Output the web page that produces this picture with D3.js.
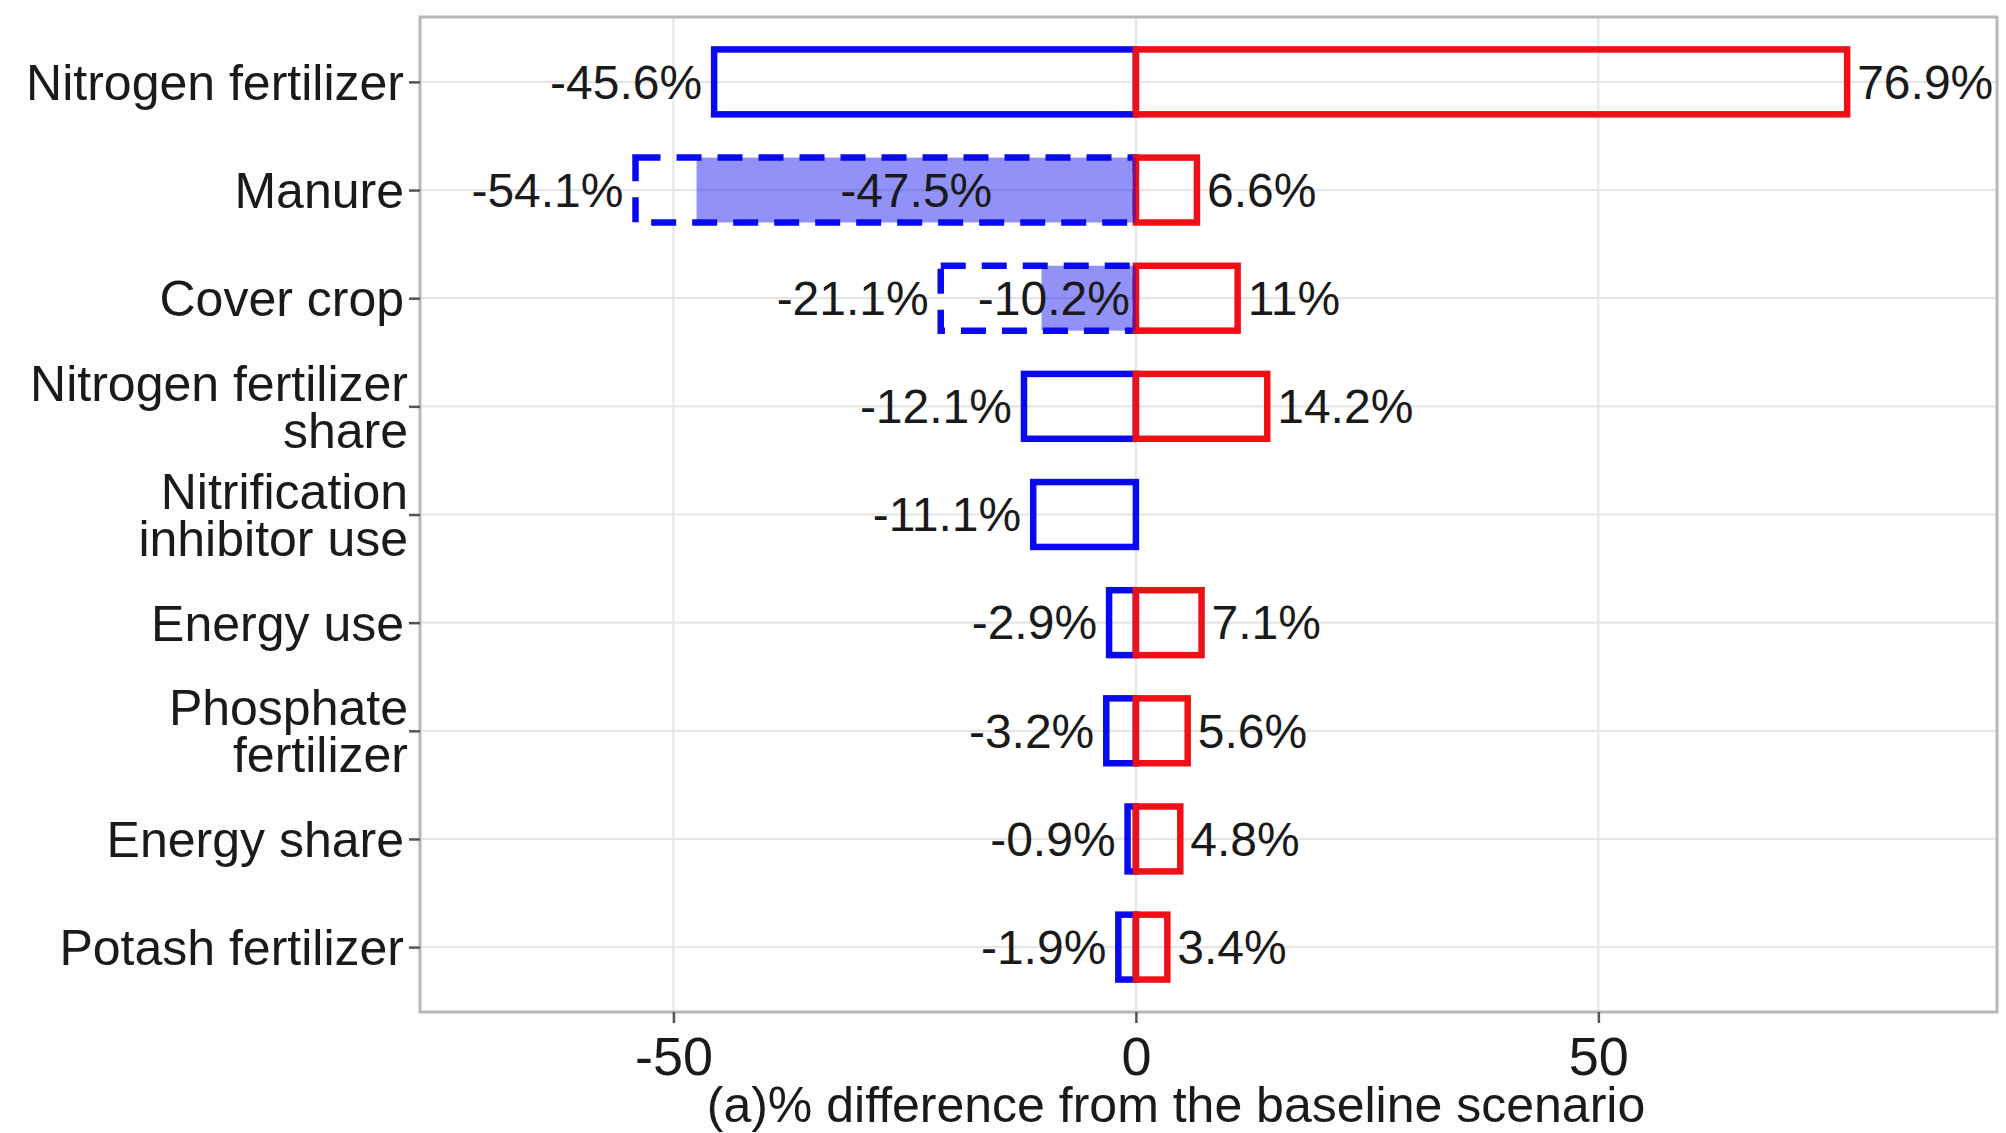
<!DOCTYPE html>
<html>
<head>
<meta charset="utf-8">
<script src="https://cdn.jsdelivr.net/npm/d3@7"></script>
<style>
  html, body { margin: 0; padding: 0; background: #fdfdfd; }
  svg { display: block; font-family: "Liberation Sans", Arial, Helvetica, sans-serif; }
</style>
</head>
<body>
<svg id="chart" width="2006" height="1133"></svg>
<script>
// Sensitivity of emissions to each input: low / high scenario, % change from baseline
const categories = [
  "Nitrogen fertilizer",
  "Manure",
  "Cover crop",
  "Nitrogen fertilizer\nshare",
  "Nitrification\ninhibitor use",
  "Energy use",
  "Phosphate\nfertilizer",
  "Energy share",
  "Potash fertilizer"
];
const lowValues = [-45.6, -54.1, -21.1, -12.1, -11.1, -2.9, -3.2, -0.9, -1.9];
const highValues = [76.9, 6.6, 11, 14.2, null, 7.1, 5.6, 4.8, 3.4];
// Part of the low-scenario change that is reached with partial adoption
const partialValues = [null, -47.5, -10.2, null, null, null, null, null, null];
const xTicks = [-50, 0, 50];
const xTitle = "(a)% difference from the baseline scenario";

const BLUE = "#0a0aee";
const RED = "#ee1016";
const TEXT = "#1a1a1a";
const STROKE = 6.5;

const svg = d3.select("#chart");
const panel = { left: 420, right: 1997, top: 17, bottom: 1012 };

const x = d3.scaleLinear().domain([-77.4, 93.1]).range([panel.left, panel.right]);
const y = d3.scalePoint().domain(categories).range([panel.top, panel.bottom]).padding(0.6);
const barH = y.step() * 0.6;

const rows = categories.map((c, i) => ({
  cat: c, low: lowValues[i], high: highValues[i], part: partialValues[i]
}));

const fmt = v => `${v}%`;

// panel background
svg.append("rect")
  .attr("x", panel.left).attr("y", panel.top)
  .attr("width", panel.right - panel.left).attr("height", panel.bottom - panel.top)
  .attr("fill", "#ffffff");

// grid
const grid = svg.append("g").attr("stroke", "#e6e6e6").attr("stroke-width", 2.2);
grid.selectAll("line.v").data(xTicks).join("line")
  .attr("x1", d => x(d)).attr("x2", d => x(d))
  .attr("y1", panel.top).attr("y2", panel.bottom);
grid.selectAll("line.h").data(categories).join("line")
  .attr("x1", panel.left).attr("x2", panel.right)
  .attr("y1", d => y(d)).attr("y2", d => y(d));

// low-scenario outlines (dashed where a partial-adoption value exists)
svg.append("g").selectAll("rect").data(rows).join("rect")
  .attr("x", d => x(d.low)).attr("width", d => x(0) - x(d.low))
  .attr("y", d => y(d.cat) - barH / 2).attr("height", barH)
  .attr("fill", "none").attr("stroke", BLUE).attr("stroke-width", STROKE)
  .attr("stroke-dasharray", d => d.part != null ? "25 16" : null);

// high-scenario outlines
svg.append("g").selectAll("rect").data(rows.filter(d => d.high != null)).join("rect")
  .attr("x", x(0)).attr("width", d => x(d.high) - x(0))
  .attr("y", d => y(d.cat) - barH / 2).attr("height", barH)
  .attr("fill", "none").attr("stroke", RED).attr("stroke-width", STROKE);

// partial-adoption fill
svg.append("g").selectAll("rect").data(rows.filter(d => d.part != null)).join("rect")
  .attr("x", d => x(d.part)).attr("width", d => x(0) - x(d.part))
  .attr("y", d => y(d.cat) - barH / 2).attr("height", barH)
  .attr("fill", BLUE).attr("fill-opacity", 0.45);

// panel border
svg.append("rect")
  .attr("x", panel.left).attr("y", panel.top)
  .attr("width", panel.right - panel.left).attr("height", panel.bottom - panel.top)
  .attr("fill", "none").attr("stroke", "#b8b8b8").attr("stroke-width", 3);

// value labels
const labels = svg.append("g").attr("font-size", 48).attr("fill", TEXT);
labels.selectAll("text.low").data(rows).join("text")
  .attr("x", d => x(d.low) - 12).attr("y", d => y(d.cat))
  .attr("dy", "0.35em").attr("text-anchor", "end")
  .text(d => fmt(d.low));
labels.selectAll("text.high").data(rows.filter(d => d.high != null)).join("text")
  .attr("x", d => x(d.high) + 10).attr("y", d => y(d.cat))
  .attr("dy", "0.35em").attr("text-anchor", "start")
  .text(d => fmt(d.high));
labels.selectAll("text.part").data(rows.filter(d => d.part != null)).join("text")
  .attr("y", d => y(d.cat)).attr("dy", "0.35em").attr("text-anchor", "middle")
  .text(d => fmt(d.part))
  .each(function (d) {
    const w = this.getComputedTextLength();
    const mid = (x(d.part) + x(0)) / 2;
    d3.select(this).attr("x", Math.min(mid, x(0) - 6 - w / 2));
  });

// y axis
const yAxis = svg.append("g")
  .attr("transform", `translate(${panel.left},0)`)
  .call(d3.axisLeft(y).tickSize(11).tickPadding(5).tickFormat(""));
yAxis.select(".domain").remove();
yAxis.selectAll(".tick line").attr("stroke", "#555").attr("stroke-width", 2.5);
yAxis.selectAll(".tick text").remove();
const lineGap = 47;
yAxis.selectAll(".tick").each(function (d) {
  const lines = d.split("\n");
  const t = d3.select(this).append("text")
    .attr("fill", TEXT).attr("font-size", 50).attr("text-anchor", "end");
  lines.forEach((ln, k) => {
    t.append("tspan")
      .attr("x", lines.length > 1 ? -12 : -16)
      .attr("y", (k - (lines.length - 1) / 2) * lineGap)
      .attr("dy", "0.35em")
      .text(ln);
  });
});

// x axis
const xAxis = svg.append("g")
  .attr("transform", `translate(0,${panel.bottom})`)
  .call(d3.axisBottom(x).tickValues(xTicks).tickSize(11).tickFormat(d => String(d)));
xAxis.select(".domain").remove();
xAxis.selectAll(".tick line").attr("stroke", "#555").attr("stroke-width", 2.5);
xAxis.selectAll(".tick text")
  .attr("fill", TEXT).attr("font-size", 54).attr("y", 63).attr("dy", null);

// axis title
svg.append("text")
  .attr("x", 1176).attr("y", 1122)
  .attr("text-anchor", "middle").attr("font-size", 50).attr("fill", TEXT)
  .text(xTitle);
</script>
</body>
</html>
